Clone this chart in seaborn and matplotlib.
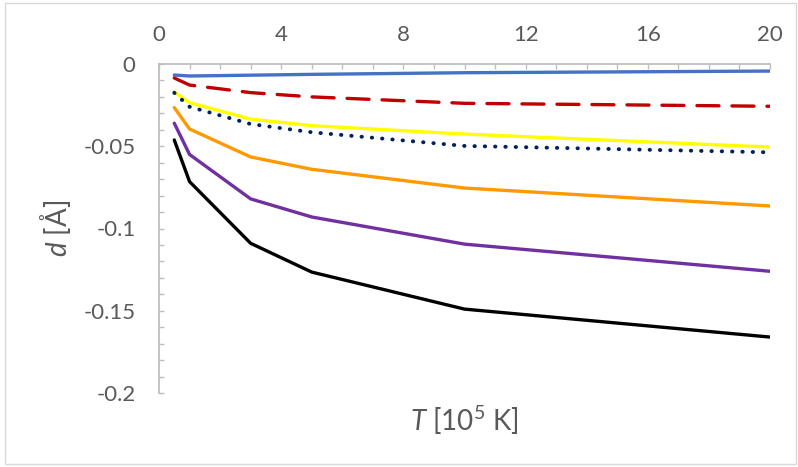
import pandas as pd
import numpy as np
import matplotlib.pyplot as plt
import seaborn as sns
from matplotlib.patches import Rectangle
from matplotlib.ticker import MultipleLocator

# T in 10^5 K, d in Angstrom
T = [0.5, 1, 3, 5, 10, 20]
d_blue = [-0.0067, -0.0073, -0.0068, -0.0063, -0.0053, -0.0043]
d_red = [-0.0085, -0.0128, -0.0174, -0.0200, -0.0239, -0.0257]
d_yellow = [-0.0170, -0.0235, -0.0335, -0.0375, -0.0426, -0.0505]
d_navy = [-0.0175, -0.0260, -0.0365, -0.0415, -0.0498, -0.0537]
d_orange = [-0.0265, -0.0395, -0.0565, -0.0640, -0.0754, -0.0863]
d_purple = [-0.0360, -0.0550, -0.0820, -0.0930, -0.1095, -0.1260]
d_black = [-0.0462, -0.0715, -0.1090, -0.1265, -0.1490, -0.1660]

series_names = ['blue', 'red', 'yellow', 'navy', 'orange', 'purple', 'black']
series_values = [d_blue, d_red, d_yellow, d_navy, d_orange, d_purple, d_black]
colors = ['#4472C4', '#C00000', '#FFFF00', '#002060', '#FF9900', '#7030A0', '#000000']
dash_styles = ['', (6.6, 3.9), '', (0.1, 2.55), '', '', '']

x_ticks = [0, 4, 8, 12, 16, 20]
x_tick_labels = ['0', '4', '8', '12', '16', '20']
y_ticks = [0, -0.05, -0.1, -0.15, -0.2]
y_tick_labels = ['0', '-0.05', '-0.1', '-0.15', '-0.2']

rows = []
for name, vals in zip(series_names, series_values):
    for t, d in zip(T, vals):
        rows.append({'T': t, 'd': d, 'series': name})
df = pd.DataFrame(rows)

sns.set_style('white')
plt.rcParams['font.family'] = ['Lato', 'DejaVu Sans']
plt.rcParams['mathtext.fontset'] = 'custom'
plt.rcParams['mathtext.rm'] = 'Lato'
plt.rcParams['mathtext.it'] = 'Lato:italic'

grey = '#BFBFBF'
txt = '#595959'

fig = plt.figure(figsize=(7.98, 4.67), dpi=100)
ax = fig.add_axes([159 / 798, 1 - 393 / 467, 611 / 798, 329 / 467])

sns.lineplot(data=df, x='T', y='d', hue='series', style='series',
             hue_order=series_names, style_order=series_names,
             palette=dict(zip(series_names, colors)),
             dashes=dict(zip(series_names, dash_styles)),
             linewidth=2.4, legend=False, ax=ax)
for line in ax.lines:
    line.set_dash_capstyle('round')
    line.set_solid_capstyle('round')
ax.lines[3].set_linewidth(2.8)

ax.set_xlim(0, 20)
ax.set_ylim(-0.2, 0)

# x axis sits at y=0, i.e. on top
ax.xaxis.tick_top()
ax.set_xticks(x_ticks, labels=x_tick_labels)
ax.set_yticks(y_ticks, labels=y_tick_labels)
ax.xaxis.set_minor_locator(MultipleLocator(1))
ax.yaxis.set_minor_locator(MultipleLocator(0.01))
ax.tick_params(which='both', direction='in', length=3.6, width=1, color=grey,
               top=True, bottom=False, left=True, right=False)
ax.tick_params(axis='x', which='major', labelsize=16, labelcolor=txt, pad=14)
ax.tick_params(axis='y', which='major', labelsize=16, labelcolor=txt, pad=17)

for s in ['right', 'bottom']:
    ax.spines[s].set_visible(False)
for s in ['top', 'left']:
    ax.spines[s].set_color(grey)
    ax.spines[s].set_linewidth(1.3)

ax.xaxis.set_label_position('bottom')
ax.set_xlabel(r'$\mathit{T}$ [10$^{5}$ K]', fontsize=20, color=txt)
ax.set_ylabel(r'$\mathit{d}$ [Å]', fontsize=20, color=txt)
ax.xaxis.set_label_coords(0.5, -0.033)
ax.yaxis.set_label_coords(-0.141, 0.5)

fig.patches.append(Rectangle((5 / 798, 3 / 467), 791 / 798, 461 / 467,
                             transform=fig.transFigure, fill=False,
                             edgecolor='#D9D9D9', linewidth=1))

fig.savefig('out.png', dpi=100)
